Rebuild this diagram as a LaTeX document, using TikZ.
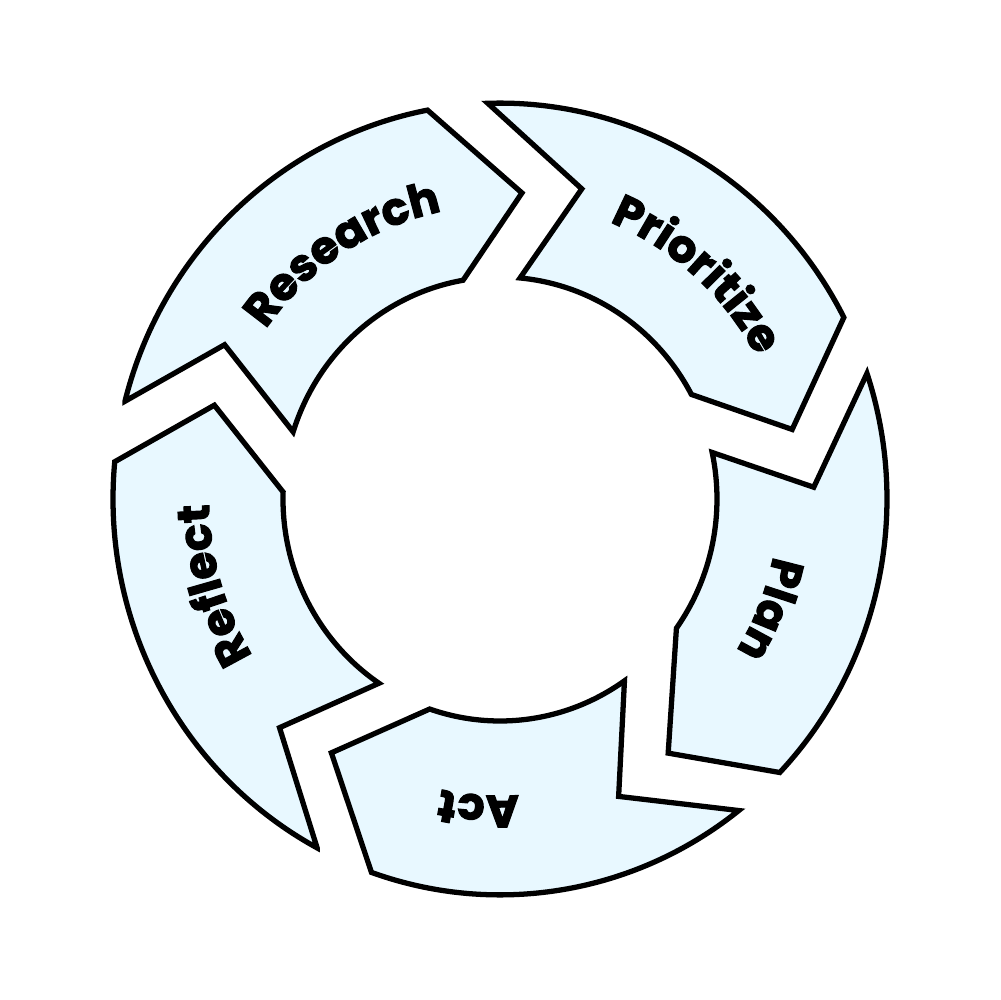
\documentclass[tikz,border=0pt]{standalone}
\usepackage{fontspec}
\usetikzlibrary{decorations.text}
\newfontfamily\labfont{Poppins}[BoldFeatures={FakeBold=2.5}]
\newcommand\cyclab{\labfont\bfseries\fontsize{12.8pt}{15pt}\selectfont}
\definecolor{segfill}{HTML}{E8F8FF}
\tikzset{
  segment/.style={draw=black, fill=segfill, line width=1.5pt},
  seglabel/.style={decorate, decoration={text along path, text align=center, text={|\cyclab|#1}}},
}
% one arrow of the ring: tail outer, notch, tail inner, head inner, tip, head outer
\newcommand\cycseg[6]{%
  \draw[segment] (#1:387) -- (#2:314) -- (#3:217)
    arc[start angle=#3, end angle=#4, radius=217] -- (#5:300) -- (#6:387)
    arc[start angle=#6, end angle=#1, radius=387] -- cycle;
}
% label on a clockwise arc: centre angle, baseline radius, text
\newcommand\cyclabel[3]{%
  \path[seglabel={#3}] ({#1+40}:#2 and {1.023*#2})
    arc[start angle={#1+40}, end angle={#1-40}, x radius=#2, y radius={1.023*#2}];
}
\begin{document}
\begin{tikzpicture}[x=0.1mm, y=0.1mm]
    \useasboundingbox (-500,-501) rectangle (500,499);

    % the five arrows, clockwise
    \begin{scope}[yscale=1.023]
        \cycseg{165.7}{151.3}{162.4}{99.8}{85.8}{100.8}
        \cycseg{91.8}{74.9}{84.7}{28.1}{13.1}{27.3}
        \cycseg{18.5}{2.1}{12.1}{-35.6}{-55.9}{-43.7}
        \cycseg{-51.9}{-67.8}{-55}{-108.9}{-124.2}{-109.4}
        \cycseg{241.8}{225.4}{236.1}{178.2}{162.2}{174.6}
    \end{scope}

    % labels
    \cyclabel{123}{287}{Research}
    \cyclabel{48.4}{292}{Prioritize}
    \cyclabel{-22}{279}{Plan}
    \cyclabel{-94}{290}{Act}
    \cyclabel{196.5}{291}{Reflect}
\end{tikzpicture}
\end{document}
